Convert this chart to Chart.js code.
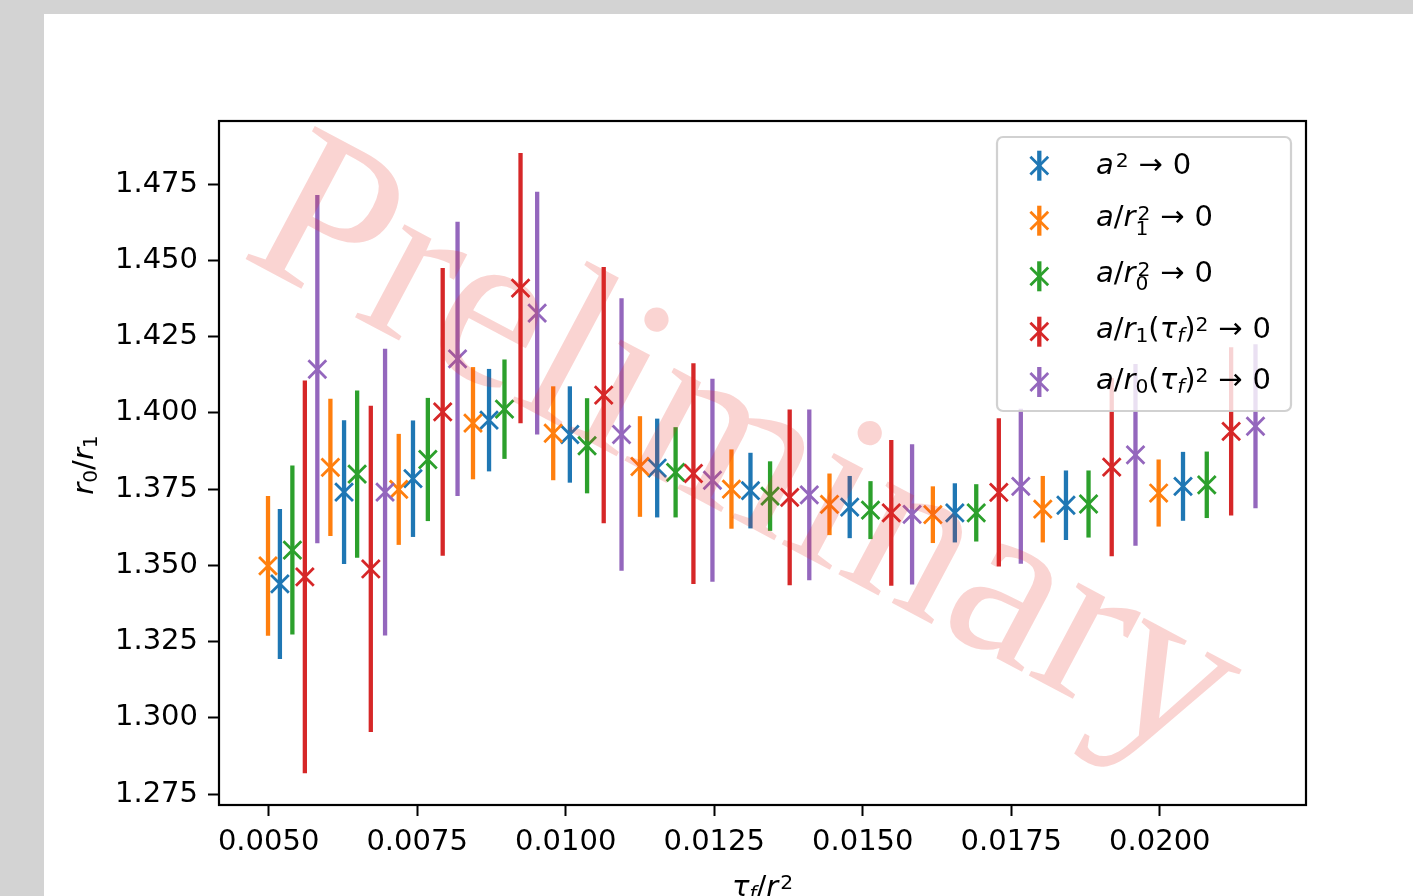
<!DOCTYPE html>
<html>
<head>
<meta charset="utf-8">
<title>r0/r1 continuum extrapolations</title>
<script src="https://cdn.jsdelivr.net/npm/chart.js@4.4.0/dist/chart.umd.min.js"></script>
<style>
    html, body {
        margin: 0;
        padding: 0;
        width: 1413px;
        height: 896px;
        overflow: hidden;
        background: #d3d3d3;
    }

    #figure {
        position: absolute;
        left: 44px;
        top: 14px;
        width: 1400px;
        height: 892px;
        background: #ffffff;
    }

    canvas {
        display: block;
    }
</style>
</head>
<body>

<div id="figure">
    <canvas id="ratioChart" width="1400" height="892"></canvas>
</div>

<script>

// tick labels

const xTicks = [0.005, 0.0075, 0.01, 0.0125, 0.015, 0.0175, 0.02];

const yTicks = [1.275, 1.3, 1.325, 1.35, 1.375, 1.4, 1.425, 1.45, 1.475];

// a^2 -> 0

const blueX = [0.00519, 0.00627, 0.00743, 0.00871, 0.01007, 0.01154, 0.01311, 0.01478, 0.01655, 0.01842, 0.02039];
const blueY = [1.3439, 1.3740, 1.3784, 1.3976, 1.3929, 1.3819, 1.3745, 1.3691, 1.3672, 1.3697, 1.3759];
const blueErr = [0.0246, 0.0236, 0.0191, 0.0168, 0.0158, 0.0162, 0.0124, 0.0102, 0.0097, 0.0114, 0.0113];

// a/r1^2 -> 0

const orangeX = [0.00499, 0.00604, 0.00719, 0.00844, 0.00979, 0.01125, 0.01279, 0.01444, 0.01618, 0.01803, 0.01998];
const orangeY = [1.3498, 1.3821, 1.3749, 1.3966, 1.3933, 1.3824, 1.3750, 1.3700, 1.3666, 1.3684, 1.3737];
const orangeErr = [0.0229, 0.0225, 0.0182, 0.0184, 0.0154, 0.0165, 0.0130, 0.0101, 0.0093, 0.0109, 0.0110];

// a/r0^2 -> 0

const greenX = [0.00540, 0.00649, 0.00768, 0.00897, 0.01036, 0.01185, 0.01344, 0.01513, 0.01691, 0.01880, 0.02079];
const greenY = [1.3550, 1.3799, 1.3847, 1.4012, 1.3892, 1.3805, 1.3727, 1.3681, 1.3672, 1.3701, 1.3764];
const greenErr = [0.0277, 0.0274, 0.0202, 0.0163, 0.0156, 0.0148, 0.0114, 0.0095, 0.0094, 0.0110, 0.0109];

// a/r1(tau_f)^2 -> 0

const redX = [0.00561, 0.00672, 0.00793, 0.00924, 0.01064, 0.01215, 0.01377, 0.01548, 0.01729, 0.01919, 0.02120];
const redY = [1.3462, 1.3488, 1.4003, 1.4409, 1.4058, 1.3801, 1.3723, 1.3672, 1.3739, 1.3822, 1.3939];
const redErr = [0.0644, 0.0535, 0.0472, 0.0443, 0.0420, 0.0362, 0.0288, 0.0239, 0.0243, 0.0292, 0.0276];

// a/r0(tau_f)^2 -> 0

const purpleX = [0.00582, 0.00696, 0.00818, 0.00952, 0.01094, 0.01247, 0.01410, 0.01583, 0.01766, 0.01959, 0.02161];
const purpleY = [1.4143, 1.3740, 1.4177, 1.4327, 1.3929, 1.3779, 1.3731, 1.3667, 1.3759, 1.3862, 1.3956];
const purpleErr = [0.0571, 0.0470, 0.0450, 0.0398, 0.0447, 0.0333, 0.0280, 0.0230, 0.0254, 0.0298, 0.0269];

// math labels: [text, style, level]  level 1 sup, -1 sub, 2/-2 stacked sup/sub

const blueLabel = [["a", "it", 0], ["2", "rm", 1], ["\u2192", "rel", 0], ["0", "rm", 0]];
const orangeLabel = [["a", "it", 0], ["/", "rm", 0], ["r", "it", 0], ["1", "rm", -2], ["2", "rm", 2], ["\u2192", "rel", 0], ["0", "rm", 0]];
const greenLabel = [["a", "it", 0], ["/", "rm", 0], ["r", "it", 0], ["0", "rm", -2], ["2", "rm", 2], ["\u2192", "rel", 0], ["0", "rm", 0]];
const redLabel = [["a", "it", 0], ["/", "rm", 0], ["r", "it", 0], ["1", "rm", -1], ["(", "rm", 0], ["\u03c4", "it", 0], ["f", "it", -1], [")", "rm", 0], ["2", "rm", 1], ["\u2192", "rel", 0], ["0", "rm", 0]];
const purpleLabel = [["a", "it", 0], ["/", "rm", 0], ["r", "it", 0], ["0", "rm", -1], ["(", "rm", 0], ["\u03c4", "it", 0], ["f", "it", -1], [")", "rm", 0], ["2", "rm", 1], ["\u2192", "rel", 0], ["0", "rm", 0]];

const xTitle = [["\u03c4", "it", 0], ["f", "it", -1], ["/", "rm", 0], ["r", "it", 0], ["2", "rm", 1]];
const yTitle = [["r", "it", 0], ["0", "rm", -1], ["/", "rm", 0], ["r", "it", 0], ["1", "rm", -1]];

const series = [
    { label: blueLabel, color: "#1f77b4", xs: blueX, ys: blueY, errs: blueErr },
    { label: orangeLabel, color: "#ff7f0e", xs: orangeX, ys: orangeY, errs: orangeErr },
    { label: greenLabel, color: "#2ca02c", xs: greenX, ys: greenY, errs: greenErr },
    { label: redLabel, color: "#d62728", xs: redX, ys: redY, errs: redErr },
    { label: purpleLabel, color: "#9467bd", xs: purpleX, ys: purpleY, errs: purpleErr }
];

const FONT_SIZE = 29;
const BAR_WIDTH = 4.3;
const MARK_WIDTH = 2.8;
const MARK_RADIUS = 12.6;

function layoutMath(ctx, tokens, size) {

    const list = [];
    let cx = 0;
    let prevItalic = false;

    tokens.forEach(([text, style, level]) => {

        const fs = level === 0 ? size : size * 0.7;

        const font =
            (style === "it" ? "italic " : "") +
            fs + "px 'DejaVu Sans'";

        ctx.font = font;

        const w = ctx.measureText(text).width;

        let dy = 0;
        if (level === 1) dy = -0.24 * size;
        if (level === 2) dy = -0.2 * size;
        if (level === -1) dy = 0.14 * size;
        if (level === -2) dy = 0.3 * size;

        // slant correction for a superscript after an italic letter
        let kern = 0;
        if ((level === 1 || level === 2) && prevItalic) kern = 0.07 * size;

        const gap = style === "rel" ? 0.34 * size : 0;

        cx += gap;
        list.push({ text, font, dx: cx + kern, dy });
        cx += (level === -2 ? 0 : w + kern) + gap;

        if (level !== -2) prevItalic = style === "it" && level === 0;

    });

    return { list, width: cx };
}

function drawMath(ctx, tokens, x, y, size, align) {

    const laid = layoutMath(ctx, tokens, size);
    const start = align === "center" ? x - laid.width / 2 : x;

    ctx.fillStyle = "#000000";
    ctx.textAlign = "left";
    ctx.textBaseline = "alphabetic";

    laid.list.forEach(item => {
        ctx.font = item.font;
        ctx.fillText(item.text, start + item.dx, y + item.dy);
    });
}

function drawCross(ctx, x, y, half, color) {

    ctx.strokeStyle = color;
    ctx.lineWidth = MARK_WIDTH;
    ctx.beginPath();
    ctx.moveTo(x - half, y - half);
    ctx.lineTo(x + half, y + half);
    ctx.moveTo(x + half, y - half);
    ctx.lineTo(x - half, y + half);
    ctx.stroke();
}

// vertical error bars, drawn under the markers

const errorBarPlugin = {

    id: "errorBars",

    beforeDatasetsDraw(chart) {

        const ctx = chart.ctx;
        const area = chart.chartArea;
        const xScale = chart.scales.x;
        const yScale = chart.scales.y;

        ctx.save();
        ctx.beginPath();
        ctx.rect(area.left, area.top, area.right - area.left, area.bottom - area.top);
        ctx.clip();

        ctx.lineWidth = BAR_WIDTH;
        ctx.lineCap = "butt";

        series.forEach(s => {

            ctx.strokeStyle = s.color;

            s.xs.forEach((xv, i) => {

                const px = xScale.getPixelForValue(xv);
                const top = yScale.getPixelForValue(s.ys[i] + s.errs[i]);
                const bottom = yScale.getPixelForValue(s.ys[i] - s.errs[i]);

                ctx.beginPath();
                ctx.moveTo(px, top);
                ctx.lineTo(px, bottom);
                ctx.stroke();
            });
        });

        ctx.restore();
    }
};

// frame, legend, axis titles and the watermark

const decorPlugin = {

    id: "decor",

    afterDatasetsDraw(chart) {

        const ctx = chart.ctx;
        const area = chart.chartArea;

        ctx.save();

        // axes frame
        ctx.strokeStyle = "#000000";
        ctx.lineWidth = 2.2;
        ctx.strokeRect(area.left, area.top, area.right - area.left, area.bottom - area.top);

        // legend box
        const boxX = 953;
        const boxY = 123;
        const boxW = 294;
        const boxH = 274;

        ctx.beginPath();
        ctx.roundRect(boxX, boxY, boxW, boxH, 6);
        ctx.fillStyle = "rgba(255, 255, 255, 0.8)";
        ctx.fill();
        ctx.strokeStyle = "rgba(204, 204, 204, 0.9)";
        ctx.lineWidth = 2.2;
        ctx.stroke();

        const rowY = [151.7, 206.7, 262.3, 317.7, 368];
        const baseShift = [8.5, 5.2, 5.2, 6.5, 6.5];

        series.forEach((s, i) => {

            const cx = 995.3;
            const cy = rowY[i];

            ctx.strokeStyle = s.color;
            ctx.lineWidth = BAR_WIDTH;
            ctx.beginPath();
            ctx.moveTo(cx, cy - 15);
            ctx.lineTo(cx, cy + 15);
            ctx.stroke();

            drawCross(ctx, cx, cy, MARK_RADIUS * Math.SQRT1_2, s.color);

            drawMath(ctx, s.label, 1052, cy + baseShift[i], FONT_SIZE, "left");
        });

        ctx.restore();
    },

    afterDraw(chart) {

        const ctx = chart.ctx;
        const area = chart.chartArea;

        ctx.save();

        // x title
        drawMath(ctx, xTitle, (area.left + area.right) / 2, 882, FONT_SIZE, "center");

        // y title
        ctx.translate(49, (area.top + area.bottom) / 2 + 2);
        ctx.rotate(-Math.PI / 2);
        drawMath(ctx, yTitle, 0, 0, FONT_SIZE, "center");

        ctx.restore();

        // watermark
        ctx.save();
        ctx.translate(700, 442);
        ctx.rotate(28 * Math.PI / 180);
        ctx.font = "229px 'Liberation Serif'";
        ctx.fillStyle = "rgba(230, 40, 30, 0.2)";
        ctx.textAlign = "center";
        ctx.textBaseline = "middle";
        ctx.fillText("Preliminary", 0, 0);
        ctx.restore();
    }
};

function buildDatasets() {

    return series.map((s, i) => ({

        data: s.xs.map((xv, j) => ({ x: xv, y: s.ys[j] })),

        showLine: false,
        pointStyle: "crossRot",
        pointRadius: MARK_RADIUS,
        pointHoverRadius: MARK_RADIUS,
        pointBorderWidth: MARK_WIDTH,
        borderColor: s.color,
        backgroundColor: s.color,
        order: series.length - i

    }));
}

function renderChart() {

    Chart.defaults.font.family = "'DejaVu Sans'";
    Chart.defaults.font.size = FONT_SIZE;
    Chart.defaults.color = "#000000";

    const ctx = document.getElementById("ratioChart");

    new Chart(ctx, {

        type: "scatter",

        data: {
            datasets: buildDatasets()
        },

        options: {

            responsive: false,
            animation: false,
            devicePixelRatio: 1,

            layout: {
                padding: { top: 107, right: 138, bottom: 0, left: 0 }
            },

            plugins: {
                legend: { display: false },
                tooltip: { enabled: false }
            },

            scales: {

                x: {
                    type: "linear",
                    min: 0.004165,
                    max: 0.02246,
                    border: { display: false },
                    grid: {
                        drawOnChartArea: false,
                        drawTicks: true,
                        tickLength: 11,
                        tickWidth: 2,
                        tickColor: "#000000"
                    },
                    ticks: {
                        padding: 9,
                        maxRotation: 0,
                        autoSkip: false,
                        callback: value => Number(value).toFixed(4)
                    },
                    afterBuildTicks: scale => {
                        scale.ticks = xTicks.map(v => ({ value: v }));
                    },
                    afterFit: scale => {
                        scale.height = 101;
                    }
                },

                y: {
                    type: "linear",
                    min: 1.2714,
                    max: 1.4957,
                    border: { display: false },
                    grid: {
                        drawOnChartArea: false,
                        drawTicks: true,
                        tickLength: 11,
                        tickWidth: 2,
                        tickColor: "#000000"
                    },
                    ticks: {
                        padding: 10,
                        autoSkip: false,
                        callback: value => Number(value).toFixed(3)
                    },
                    afterBuildTicks: scale => {
                        scale.ticks = yTicks.map(v => ({ value: v }));
                    },
                    afterFit: scale => {
                        scale.width = 175;
                    }
                }
            }
        },

        plugins: [errorBarPlugin, decorPlugin]

    });
}

document.addEventListener(
    "DOMContentLoaded",
    renderChart
);

</script>
</body>
</html>
